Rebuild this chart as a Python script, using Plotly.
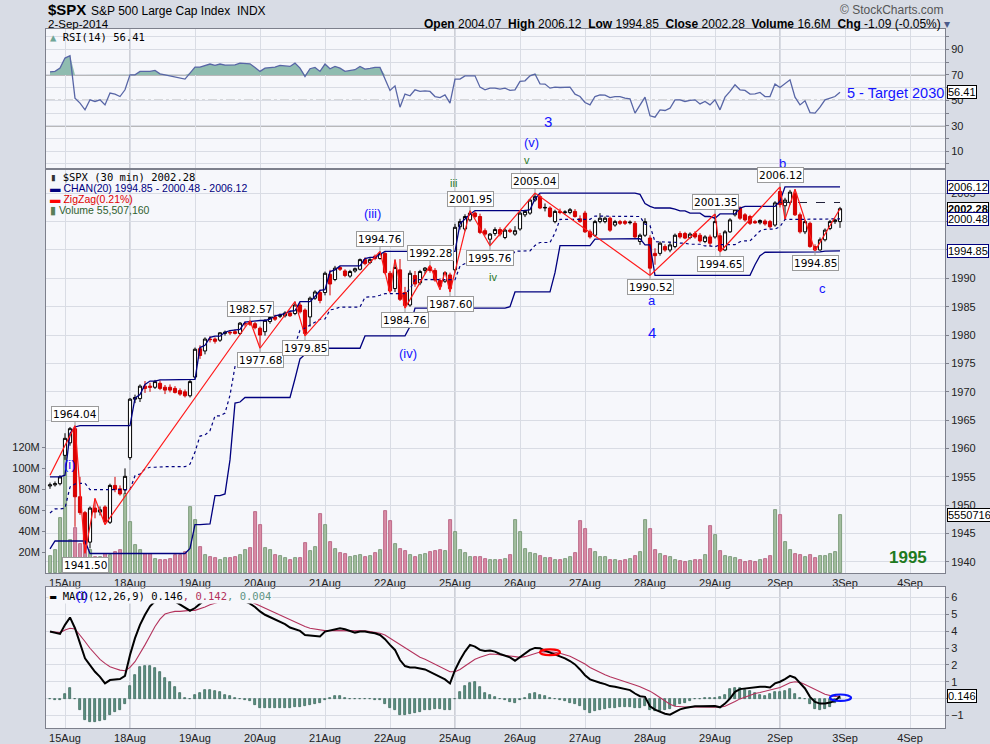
import plotly.graph_objects as go

# =========================
# DATA  ($SPX, 30 min bars, last 3 bars of 14-Aug .. 2-Sep-2014)
# =========================

DAY_LABELS = ["15Aug", "18Aug", "19Aug", "20Aug", "21Aug", "22Aug", "25Aug",
              "26Aug", "27Aug", "28Aug", "29Aug", "2Sep", "3Sep", "4Sep"]
DAY_START = [3, 16, 29, 42, 55, 68, 81, 94, 107, 120, 133, 146, 159, 172]
WEEK_START = [16, 81, 146]

OPEN = [
    1953.4, 1953.6, 1953.8,
    1958.8, 1961.0, 1963.5, 1951.5, 1948.7, 1943.5, 1949.5, 1948.8, 1949.7, 1947.0, 1953.5, 1952.9, 1952.7,
    1958.4, 1968.7, 1968.8, 1971.0, 1971.0, 1970.8, 1971.5, 1970.8, 1970.8, 1970.6, 1970.2, 1970.0, 1969.3,
    1972.6, 1977.6, 1977.2, 1979.3, 1979.3, 1979.1, 1980.3, 1980.5, 1980.6, 1980.3, 1982.0, 1982.3, 1982.0,
    1981.2, 1980.6, 1982.4, 1983.2, 1983.3, 1983.4, 1983.9, 1983.8, 1985.3, 1984.4, 1983.2, 1986.5, 1987.5,
    1987.5, 1990.7, 1989.8, 1991.9, 1991.3, 1990.4, 1991.3, 1991.6, 1993.3, 1992.8, 1993.9, 1993.5, 1994.4,
    1990.9, 1988.2, 1991.5, 1987.5, 1985.3, 1990.5, 1989.2, 1991.4, 1992.0, 1991.4, 1989.6, 1989.5, 1990.6,
    1991.5, 1999.1, 1998.7, 2000.3, 2001.5, 2000.9, 1998.4, 1996.9, 1997.9, 1998.6, 1997.2, 1998.5, 1997.8,
    1998.7, 2001.2, 2001.5, 2003.8, 2004.4, 2002.4, 2002.4, 2000.0, 2001.8, 2001.6, 2001.6, 2001.8, 2000.5,
    2001.5, 1998.2, 1997.6, 2000.0, 2000.0, 2000.6, 1999.4, 2000.0, 2000.0, 1999.8, 1999.7, 1996.5, 1997.6,
    1997.1, 1994.4, 1994.4, 1995.6, 1995.0, 1995.6, 1997.9, 1997.9, 1997.2, 1997.9, 1997.6, 1996.5, 1997.3,
    1997.3, 1997.5, 1995.0, 1998.2, 2001.2, 2002.4, 2001.2, 2000.9, 2000.0, 1999.8, 2000.1, 2000.0, 1999.4,
    2005.3, 2002.8, 2003.4, 2005.0, 2001.2, 1998.2, 1999.7, 1995.6, 1995.0, 1996.8, 1998.8, 2000.0, 2000.0,
]
HIGH = [
    1954.0, 1954.2, 1955.3,
    1962.7, 1963.8, 1964.04, 1955.0, 1949.0, 1949.8, 1951.2, 1949.8, 1950.0, 1953.8, 1955.0, 1953.5, 1956.5,
    1968.9, 1969.5, 1971.3, 1971.9, 1971.6, 1972.1, 1972.0, 1971.2, 1971.3, 1971.0, 1970.6, 1970.4, 1972.2,
    1977.8, 1978.2, 1979.6, 1979.8, 1979.6, 1980.5, 1980.8, 1980.9, 1981.0, 1982.3, 1982.4, 1982.57, 1982.3,
    1981.5, 1982.8, 1983.4, 1983.6, 1983.8, 1984.2, 1984.3, 1985.9, 1985.7, 1984.7, 1986.8, 1987.9, 1988.0,
    1991.2, 1991.5, 1992.2, 1992.2, 1991.6, 1991.5, 1991.9, 1993.5, 1993.7, 1993.6, 1994.2, 1994.76, 1994.6,
    1991.3, 1993.3, 1993.4, 1988.5, 1991.4, 1991.3, 1991.5, 1992.0, 1992.28, 1991.8, 1990.0, 1991.2, 1991.0,
    1999.6, 2000.5, 2001.3, 2001.95, 2001.8, 2001.4, 1998.8, 1998.0, 1999.0, 1999.0, 1998.8, 1998.8, 1999.2,
    2001.8, 2002.1, 2004.0, 2005.04, 2004.8, 2003.2, 2002.7, 2002.1, 2002.3, 2002.0, 2002.4, 2002.2, 2001.1,
    2001.9, 1998.6, 2000.3, 2001.5, 2000.9, 2000.9, 2000.3, 2000.3, 2000.3, 2000.2, 2000.1, 1997.9, 2000.6,
    1997.6, 1995.3, 1996.5, 1996.0, 1996.4, 1997.9, 1998.3, 1998.2, 1998.1, 1998.3, 1998.0, 1997.6, 1997.7,
    2001.35, 1998.0, 1998.5, 2000.6, 2002.4, 2002.7, 2001.5, 2001.2, 2000.3, 2000.4, 2000.4, 2000.3, 2003.6,
    2006.12, 2004.2, 2005.6, 2005.7, 2001.6, 2000.3, 2000.0, 1996.0, 1997.2, 1998.8, 2000.3, 2000.5, 2002.6,
]
LOW = [
    1952.9, 1953.3, 1953.5,
    1958.0, 1960.5, 1946.2, 1948.3, 1941.5, 1942.4, 1947.7, 1948.2, 1946.6, 1946.7, 1952.3, 1951.7, 1952.0,
    1958.0, 1968.0, 1968.2, 1969.8, 1970.0, 1970.5, 1970.3, 1969.6, 1969.9, 1969.7, 1969.3, 1969.0, 1969.0,
    1972.3, 1975.8, 1976.6, 1978.7, 1978.5, 1978.8, 1979.9, 1980.0, 1980.1, 1980.0, 1981.5, 1981.6, 1981.0,
    1977.68, 1979.9, 1982.0, 1982.5, 1983.0, 1983.1, 1983.2, 1983.5, 1983.8, 1979.85, 1981.5, 1986.2, 1985.6,
    1987.0, 1987.0, 1989.5, 1991.3, 1990.2, 1990.1, 1991.0, 1991.4, 1992.3, 1992.5, 1993.2, 1993.3, 1990.7,
    1987.5, 1987.6, 1986.0, 1984.76, 1985.0, 1988.5, 1988.8, 1990.8, 1991.0, 1989.4, 1988.0, 1989.2, 1987.60,
    1991.0, 1998.6, 1998.3, 2000.0, 2000.6, 1997.8, 1997.5, 1995.76, 1997.5, 1997.4, 1996.9, 1998.0, 1997.5,
    1998.4, 2000.8, 2001.2, 2003.5, 2002.2, 2001.8, 2000.7, 1999.7, 2001.3, 2001.2, 2001.3, 2000.7, 1999.8,
    1998.0, 1997.0, 1997.3, 1999.7, 1999.7, 1998.2, 1999.1, 1999.4, 1999.4, 1999.5, 1997.0, 1995.9, 1997.3,
    1990.52, 1992.4, 1994.0, 1994.7, 1994.6, 1995.3, 1997.0, 1996.9, 1996.9, 1997.0, 1996.3, 1996.2, 1995.6,
    1997.0, 1994.65, 1994.8, 1998.0, 2000.9, 2000.3, 2000.0, 1999.4, 1999.6, 1999.5, 1999.3, 1998.8, 1999.1,
    2002.5, 2000.4, 2003.0, 2001.0, 1997.9, 1997.8, 1995.4, 1994.85, 1994.9, 1996.5, 1998.5, 1999.6, 1998.9,
]
CLOSE = [
    1953.6, 1953.8, 1955.0,
    1961.8, 1963.5, 1951.5, 1948.7, 1943.2, 1949.5, 1948.8, 1949.2, 1947.1, 1953.5, 1952.8, 1952.0, 1955.1,
    1968.7, 1969.0, 1971.0, 1970.6, 1970.8, 1971.8, 1970.6, 1970.3, 1970.3, 1969.9, 1969.6, 1969.3, 1971.8,
    1977.5, 1976.4, 1979.3, 1979.2, 1978.9, 1980.4, 1980.5, 1980.4, 1980.3, 1982.1, 1982.0, 1981.9, 1981.3,
    1980.0, 1982.6, 1983.1, 1982.8, 1983.5, 1983.9, 1983.4, 1985.3, 1984.1, 1980.3, 1986.5, 1987.6, 1986.1,
    1990.9, 1989.0, 1991.8, 1991.6, 1990.5, 1991.2, 1991.7, 1993.3, 1992.6, 1993.3, 1993.5, 1994.4, 1991.0,
    1987.8, 1991.9, 1986.3, 1985.2, 1990.9, 1989.0, 1991.2, 1991.8, 1991.4, 1989.7, 1988.6, 1991.0, 1988.2,
    1999.0, 2000.0, 2000.9, 2001.5, 2000.9, 1998.1, 1997.8, 1997.8, 1998.6, 1997.8, 1998.5, 1998.3, 1998.4,
    2001.5, 2001.8, 2003.8, 2004.4, 2002.4, 2002.5, 2000.9, 2001.8, 2001.6, 2001.7, 2002.1, 2000.9, 2000.0,
    1998.2, 1997.3, 2000.0, 2000.6, 2000.6, 1998.5, 2000.0, 1999.7, 1999.7, 1999.9, 1997.3, 1997.6, 2000.0,
    1991.8, 1994.0, 1996.2, 1995.0, 1995.9, 1997.6, 1997.3, 1997.1, 1997.8, 1997.3, 1996.6, 1997.3, 1996.2,
    2000.0, 1994.9, 1998.2, 2000.3, 2002.1, 2000.6, 2000.3, 1999.7, 1999.8, 2000.2, 1999.6, 1999.1, 2003.3,
    2003.0, 2003.8, 2005.2, 2001.2, 1998.2, 2000.0, 1995.6, 1995.0, 1996.8, 1998.5, 2000.0, 2000.3, 2002.28,
]
PREV_CLOSE = 2003.37

# volume, millions of shares
VOLUME_M = [
    15.9, 21.6, 52.7,
    112.0, 31.1, 43.2, 27.3, 41.3, 21.6, 15.2, 15.2, 18.4, 16.8, 20.0, 21.6, 75.6,
    48.6, 26.3, 22.2, 17.8, 17.8, 13.7, 12.7, 12.7, 13.7, 16.8, 16.8, 20.0, 62.9,
    50.2, 24.8, 16.8, 15.2, 14.3, 12.7, 14.3, 14.3, 15.2, 17.5, 21.6, 24.0, 58.1,
    45.4, 24.1, 21.6, 16.8, 15.9, 14.3, 12.1, 14.3, 14.3, 28.6, 21.0, 24.8, 55.9,
    45.4, 29.2, 22.5, 19.0, 17.8, 15.2, 15.9, 16.8, 15.2, 15.9, 19.0, 21.6, 59.0,
    49.5, 27.9, 23.2, 21.0, 16.8, 15.2, 16.8, 18.4, 20.0, 20.6, 21.6, 21.0, 50.8,
    39.0, 22.2, 19.4, 15.2, 15.2, 15.2, 13.7, 12.7, 12.1, 12.7, 13.7, 16.8, 50.8,
    38.7, 23.2, 19.4, 17.8, 15.9, 14.3, 14.3, 12.1, 12.7, 13.7, 15.2, 19.0, 49.2,
    41.6, 22.5, 19.7, 15.2, 15.2, 12.7, 12.1, 11.1, 12.1, 13.7, 15.9, 20.0, 50.2,
    42.2, 21.6, 17.8, 16.2, 15.2, 12.7, 11.4, 10.5, 11.1, 12.1, 12.7, 16.8, 44.4,
    35.9, 20.6, 15.9, 15.2, 14.3, 12.1, 10.5, 11.1, 10.5, 12.1, 13.0, 15.9, 59.7,
    54.9, 29.5, 21.6, 17.8, 17.5, 15.2, 16.8, 14.6, 15.9, 15.9, 17.8, 19.7, 55.51,
]

# price channel CHAN(20)
CHAN_UPPER = [
    1955.0, 1955.0, 1955.0,
    1955.3, 1962.7, 1963.8, 1964.04, 1964.04, 1964.04, 1964.04, 1964.04, 1964.04, 1964.04, 1964.04, 1964.04, 1964.04,
    1964.04, 1968.9, 1969.5, 1971.3, 1971.9, 1971.9, 1972.1, 1972.1, 1972.1, 1972.1, 1972.1, 1972.1, 1972.1,
    1972.2, 1977.8, 1978.2, 1979.6, 1979.8, 1979.8, 1980.5, 1980.8, 1980.9, 1981.0, 1982.3, 1982.4, 1982.57,
    1982.57, 1982.57, 1982.8, 1983.4, 1983.6, 1983.8, 1984.2, 1984.3, 1985.9, 1985.9, 1985.9, 1986.8, 1987.9,
    1988.0, 1991.2, 1991.5, 1992.2, 1992.2, 1992.2, 1992.2, 1992.2, 1993.5, 1993.7, 1993.7, 1994.2, 1994.76,
    1994.76, 1994.76, 1994.76, 1994.76, 1994.76, 1994.76, 1994.76, 1994.76, 1994.76, 1994.76, 1994.76, 1994.76, 1994.76,
    1994.76, 1999.6, 2000.5, 2001.3, 2001.95, 2001.95, 2001.95, 2001.95, 2001.95, 2001.95, 2001.95, 2001.95, 2001.95,
    2001.95, 2001.95, 2002.1, 2004.0, 2005.04, 2005.04, 2005.04, 2005.04, 2005.04, 2005.04, 2005.04, 2005.04, 2005.04,
    2005.04, 2005.04, 2005.04, 2005.04, 2005.04, 2005.04, 2005.04, 2005.04, 2005.04, 2005.04, 2005.04, 2004.8, 2003.2,
    2002.7, 2002.4, 2002.4, 2002.4, 2002.4, 2002.2, 2001.9, 2001.9, 2001.5, 2001.5, 2001.5, 2000.9, 2000.9,
    2000.6, 2001.35, 2001.35, 2001.35, 2001.35, 2002.4, 2002.7, 2002.7, 2002.7, 2002.7, 2002.7, 2002.7, 2002.7,
    2003.6, 2006.12, 2006.12, 2006.12, 2006.12, 2006.12, 2006.12, 2006.12, 2006.12, 2006.12, 2006.12, 2006.12, 2006.12,
]
CHAN_LOWER = [
    1942.3, 1943.7, 1943.7,
    1943.7, 1943.7, 1943.7, 1943.7, 1943.7, 1941.5, 1941.5, 1941.5, 1941.5, 1941.5, 1941.5, 1941.5, 1941.5,
    1941.5, 1941.5, 1941.5, 1941.5, 1941.5, 1941.5, 1941.5, 1941.5, 1941.5, 1941.5, 1941.5, 1941.5, 1942.4,
    1946.6, 1946.6, 1946.6, 1946.7, 1951.7, 1951.7, 1952.0, 1958.0, 1968.0, 1968.2, 1969.0, 1969.0, 1969.0,
    1969.0, 1969.0, 1969.0, 1969.0, 1969.0, 1969.0, 1969.0, 1972.3, 1975.8, 1976.6, 1977.68, 1977.68, 1977.68,
    1977.68, 1977.68, 1977.68, 1977.68, 1977.68, 1977.68, 1977.68, 1977.68, 1979.85, 1979.85, 1979.85, 1979.85, 1979.85,
    1979.85, 1979.85, 1979.85, 1979.85, 1981.5, 1984.76, 1984.76, 1984.76, 1984.76, 1984.76, 1984.76, 1984.76, 1984.76,
    1984.76, 1984.76, 1984.76, 1984.76, 1984.76, 1984.76, 1984.76, 1984.76, 1984.76, 1984.76, 1984.76, 1985.0, 1987.6,
    1987.6, 1987.6, 1987.6, 1987.6, 1987.6, 1987.6, 1987.6, 1991.0, 1995.76, 1995.76, 1995.76, 1995.76, 1995.76,
    1995.76, 1995.76, 1996.9, 1996.9, 1996.9, 1997.0, 1997.0, 1997.0, 1997.0, 1997.0, 1997.0, 1997.0, 1995.9,
    1995.9, 1990.52, 1990.52, 1990.52, 1990.52, 1990.52, 1990.52, 1990.52, 1990.52, 1990.52, 1990.52, 1990.52, 1990.52,
    1990.52, 1990.52, 1990.52, 1990.52, 1990.52, 1990.52, 1990.52, 1990.52, 1992.4, 1994.0, 1994.6, 1994.6, 1994.65,
    1994.65, 1994.65, 1994.65, 1994.65, 1994.65, 1994.65, 1994.65, 1994.65, 1994.65, 1994.8, 1994.85, 1994.85, 1994.85,
]

# ZigZag(0.21%) pivots
ZZ_IDX = [0, 5, 7, 9, 11, 40, 42, 49, 51, 66, 68, 69, 71, 76, 78, 79, 80, 84, 88, 97,
          120, 133, 134, 146, 147, 149, 153, 158]
ZZ_VAL = [1955.3, 1964.04, 1941.50, 1951.2, 1946.6, 1982.57, 1977.68, 1985.9, 1979.85, 1994.76,
          1987.5, 1993.3, 1984.76, 1992.28, 1988.0, 1991.2, 1987.60, 2001.95, 1995.76, 2005.04,
          1990.52, 2001.35, 1994.65, 2006.12, 2000.4, 2005.7, 1994.85, 2002.28]
ZZ_TAG = ["", "hi", "lo", "", "", "hi", "lo", "", "lo", "hi",
          "", "", "lo", "hi", "", "", "lo", "hi", "lo", "hi",
          "lo", "hi", "lo", "hi", "", "", "lo", ""]

RSI = [
    72.5, 72.8, 75.4, 83.3, 85.1, 51.7, 47.8, 42.5, 50.4, 49.1,
    50.4, 46.4, 55.7, 54.9, 53.0, 58.3, 70.1, 70.1, 72.8, 72.8,
    72.8, 73.6, 70.9, 70.1, 69.3, 68.8, 68.0, 66.7, 71.4, 76.2,
    76.2, 77.2, 78.6, 77.5, 78.6, 77.8, 77.8, 78.0, 79.3, 79.3,
    78.8, 75.9, 72.8, 75.4, 75.9, 76.2, 77.5, 77.2, 76.7, 79.3,
    75.4, 68.8, 74.9, 75.9, 72.8, 78.6, 74.9, 76.7, 75.4, 72.8,
    73.3, 74.1, 76.7, 74.6, 75.1, 75.9, 75.9, 66.2, 57.8, 61.4,
    44.6, 54.9, 53.6, 58.3, 57.0, 57.5, 57.0, 53.0, 52.2, 54.3,
    47.8, 66.7, 66.7, 69.3, 69.3, 69.3, 60.4, 58.3, 59.6, 59.6,
    58.8, 59.6, 57.8, 58.3, 64.9, 65.4, 69.3, 70.7, 63.0, 62.8,
    59.6, 60.4, 60.1, 60.4, 60.4, 54.9, 53.0, 48.3, 46.4, 53.0,
    54.3, 54.1, 52.2, 53.0, 53.0, 51.7, 51.2, 39.9, 46.4, 52.5,
    37.8, 36.7, 42.5, 42.0, 43.8, 50.4, 50.4, 49.1, 49.9, 50.4,
    47.2, 49.1, 46.4, 50.4, 42.5, 52.5, 57.0, 62.2, 58.3, 57.8,
    54.9, 55.1, 56.2, 53.0, 53.0, 62.8, 60.1, 62.8, 66.2, 52.5,
    46.4, 49.6, 40.4, 39.9, 44.6, 50.4, 51.7, 53.0, 56.41,
]

MACD = [
    3.98, 3.92, 3.84, 4.38, 4.82, 4.18, 3.29, 2.39, 1.99, 1.59,
    1.29, 0.90, 1.10, 1.14, 1.16, 1.35, 2.59, 3.59, 4.38, 4.98,
    5.48, 5.78, 5.88, 5.88, 5.88, 5.78, 5.58, 5.38, 5.22, 5.38,
    5.64, 5.88, 6.08, 6.18, 6.24, 6.24, 6.18, 6.04, 5.92, 5.78,
    5.64, 5.44, 5.18, 4.98, 4.84, 4.72, 4.58, 4.42, 4.22, 4.14,
    4.02, 3.78, 3.75, 3.75, 3.69, 3.98, 4.04, 4.12, 4.18, 4.12,
    4.02, 3.92, 3.98, 3.98, 3.92, 3.88, 3.78, 3.53, 3.19, 2.89,
    2.29, 1.93, 1.85, 1.85, 1.79, 1.73, 1.59, 1.43, 1.25, 1.14,
    0.90, 1.69, 2.29, 2.79, 3.19, 3.09, 2.89, 2.83, 2.85, 2.79,
    2.65, 2.53, 2.45, 2.25, 2.45, 2.65, 2.89, 3.01, 2.99, 2.85,
    2.73, 2.65, 2.53, 2.39, 2.23, 2.03, 1.73, 1.39, 1.14, 1.02,
    0.94, 0.86, 0.74, 0.70, 0.64, 0.60, 0.50, 0.30, 0.14, 0.10,
    -0.46, -0.66, -0.80, -0.90, -0.96, -0.80, -0.64, -0.56, -0.50, -0.46,
    -0.46, -0.44, -0.46, -0.44, -0.52, -0.30, 0.00, 0.40, 0.56, 0.60,
    0.64, 0.66, 0.70, 0.70, 0.66, 0.90, 1.00, 1.16, 1.35, 1.24,
    0.94, 0.60, 0.10, -0.20, -0.30, -0.30, -0.24, -0.14, 0.146,
]
MACD_SIGNAL = [
    3.98, 3.96, 3.92, 4.08, 4.18, 4.14, 3.78, 3.39, 2.99, 2.65,
    2.33, 2.09, 1.89, 1.79, 1.69, 1.65, 1.85, 2.19, 2.65, 3.19,
    3.73, 4.28, 4.72, 5.02, 5.12, 5.18, 5.18, 5.22, 5.24, 5.24,
    5.32, 5.44, 5.58, 5.68, 5.78, 5.84, 5.88, 5.88, 5.88, 5.84,
    5.78, 5.64, 5.52, 5.38, 5.24, 5.08, 4.94, 4.82, 4.68, 4.54,
    4.42, 4.28, 4.18, 4.12, 4.08, 4.04, 4.04, 4.04, 4.04, 4.04,
    4.04, 4.04, 4.02, 4.02, 3.98, 3.94, 3.88, 3.78, 3.59, 3.39,
    3.19, 2.99, 2.79, 2.59, 2.45, 2.33, 2.19, 2.05, 1.89, 1.73,
    1.59, 1.59, 1.73, 1.93, 2.13, 2.33, 2.45, 2.57, 2.65, 2.63,
    2.61, 2.57, 2.53, 2.49, 2.45, 2.49, 2.57, 2.69, 2.77, 2.79,
    2.79, 2.75, 2.69, 2.61, 2.51, 2.37, 2.23, 2.05, 1.85, 1.69,
    1.55, 1.41, 1.29, 1.20, 1.10, 1.00, 0.90, 0.80, 0.70, 0.58,
    0.44, 0.26, 0.06, -0.14, -0.34, -0.46, -0.50, -0.50, -0.50, -0.50,
    -0.50, -0.50, -0.50, -0.50, -0.52, -0.46, -0.34, -0.18, -0.02, 0.10,
    0.20, 0.30, 0.36, 0.42, 0.50, 0.58, 0.66, 0.80, 0.94, 1.00,
    0.96, 0.84, 0.70, 0.54, 0.38, 0.26, 0.18, 0.12, 0.142,
]
MACD_HIST = [
    -0.05, -0.08, -0.10, 0.30, 0.60, -0.05, -0.66, -1.30, -1.40, -1.40,
    -1.35, -1.25, -1.00, -0.80, -0.66, -0.30, 0.75, 1.40, 1.85, 1.93,
    1.93, 1.79, 1.55, 1.25, 0.96, 0.66, 0.36, 0.06, -0.02, 0.24,
    0.36, 0.50, 0.50, 0.46, 0.38, 0.24, 0.14, 0.04, 0.00, -0.06,
    -0.14, -0.40, -0.56, -0.56, -0.56, -0.56, -0.56, -0.56, -0.56, -0.50,
    -0.50, -0.46, -0.40, -0.34, -0.26, -0.06, 0.06, 0.14, 0.14, 0.04,
    0.00, 0.00, -0.04, -0.02, -0.04, -0.06, -0.10, -0.30, -0.56, -0.70,
    -1.00, -1.00, -0.94, -0.86, -0.80, -0.70, -0.66, -0.64, -0.64, -0.66,
    -0.66, 0.00, 0.40, 0.74, 0.90, 1.00, 0.66, 0.34, 0.20, 0.10,
    -0.04, -0.10, -0.20, -0.26, -0.06, 0.06, 0.26, 0.34, 0.24, 0.16,
    0.06, 0.00, -0.10, -0.16, -0.24, -0.34, -0.46, -0.70, -0.84, -0.76,
    -0.70, -0.60, -0.56, -0.54, -0.50, -0.50, -0.50, -0.54, -0.54, -0.46,
    -0.66, -0.76, -0.74, -0.70, -0.60, -0.46, -0.34, -0.26, -0.14, -0.04,
    0.00, 0.04, 0.04, 0.04, 0.10, 0.24, 0.54, 0.60, 0.60, 0.50,
    0.44, 0.36, 0.20, 0.16, 0.30, 0.40, 0.40, 0.44, 0.54, 0.30,
    0.06, -0.04, -0.30, -0.60, -0.70, -0.60, -0.50, -0.26, 0.004,
]

# =========================
# THEME
# =========================

W, H = 990, 744
PAPER = "#d8dce5"
PLOT_BG = "#f6f7fb"
GRID = "#d9dce4"
WEEK_LINE = "#a6a9b3"
BORDER = "#7d808c"
NAVY = "#00007f"
BLUE_TXT = "#1414ff"
GREEN_TXT = "#2a7a2a"
MONO = "DejaVu Sans Mono"
SANS = "Liberation Sans, Arial, sans-serif"

X_RANGE = [-0.8, 179]


def fx(px):
    return px / W


def fy(py):
    return 1 - py / H


bars = list(range(len(CLOSE)))
up = [c >= o for o, c in zip(OPEN, CLOSE)]
vol_fill = ["#a3be9f" if u else "#d98ba5" for u in up]
vol_edge = ["#6e8f6b" if u else "#b2587a" for u in up]
chan_mid = [(u + l) / 2 for u, l in zip(CHAN_UPPER, CHAN_LOWER)]
rsi_over = [max(v, 70) for v in RSI]

fig = go.Figure()

# =========================
# 1. RSI PANEL
# =========================

fig.add_trace(go.Scatter(x=bars, y=[70] * len(RSI), mode="lines", line=dict(width=0),
                         xaxis="x", yaxis="y", hoverinfo="skip", showlegend=False))
fig.add_trace(go.Scatter(x=bars, y=rsi_over, mode="lines", line=dict(width=0),
                         fill="tonexty", fillcolor="#8fbcb0",
                         xaxis="x", yaxis="y", hoverinfo="skip", showlegend=False))
fig.add_trace(go.Scatter(x=bars, y=RSI, mode="lines", line=dict(color="#5866a6", width=1.3),
                         xaxis="x", yaxis="y", hoverinfo="skip", showlegend=False))

# =========================
# 2. PRICE PANEL
# =========================

fig.add_trace(go.Bar(x=bars, y=VOLUME_M, width=0.6,
                     marker=dict(color=vol_fill, line=dict(color=vol_edge, width=0.8)),
                     xaxis="x2", yaxis="y2", hoverinfo="skip", showlegend=False))

fig.add_trace(go.Scatter(x=bars, y=CHAN_UPPER, mode="lines", line=dict(color=NAVY, width=1.3),
                         xaxis="x2", yaxis="y3", hoverinfo="skip", showlegend=False))
fig.add_trace(go.Scatter(x=bars, y=CHAN_LOWER, mode="lines", line=dict(color=NAVY, width=1.3),
                         xaxis="x2", yaxis="y3", hoverinfo="skip", showlegend=False))
fig.add_trace(go.Scatter(x=bars, y=chan_mid, mode="lines", line=dict(color=NAVY, width=1.2, dash="dot"),
                         xaxis="x2", yaxis="y3", hoverinfo="skip", showlegend=False))

prev_x = [DAY_START[DAY_LABELS.index("2Sep")], bars[-1]]
fig.add_trace(go.Scatter(x=prev_x, y=[PREV_CLOSE, PREV_CLOSE], mode="lines",
                         line=dict(color="#20203a", width=1, dash="dash"),
                         xaxis="x2", yaxis="y3", hoverinfo="skip", showlegend=False))

fig.add_trace(go.Candlestick(
    x=bars, open=OPEN, high=HIGH, low=LOW, close=CLOSE,
    increasing=dict(fillcolor="#ffffff", line=dict(color="#000000", width=1)),
    decreasing=dict(fillcolor="#e00000", line=dict(color="#d00000", width=1)),
    whiskerwidth=0, xaxis="x2", yaxis="y3", hoverinfo="skip", showlegend=False))

fig.add_trace(go.Scatter(x=ZZ_IDX, y=ZZ_VAL, mode="lines", line=dict(color="#ff1a1a", width=1.2),
                         xaxis="x2", yaxis="y3", hoverinfo="skip", showlegend=False))

# =========================
# 3. MACD PANEL
# =========================

fig.add_trace(go.Bar(x=bars, y=MACD_HIST, width=0.55,
                     marker=dict(color="#5e9383", line=dict(color="#2f5d50", width=0.7)),
                     xaxis="x3", yaxis="y4", hoverinfo="skip", showlegend=False))
fig.add_trace(go.Scatter(x=bars, y=MACD_SIGNAL, mode="lines", line=dict(color="#b3325c", width=1.1),
                         xaxis="x3", yaxis="y4", hoverinfo="skip", showlegend=False))
fig.add_trace(go.Scatter(x=bars, y=MACD, mode="lines", line=dict(color="#000000", width=2),
                         xaxis="x3", yaxis="y4", hoverinfo="skip", showlegend=False))

# =========================
# AXES
# =========================

x_common = dict(
    range=X_RANGE, domain=[fx(46), fx(945)],
    tickmode="array", tickvals=DAY_START, ticktext=DAY_LABELS,
    showgrid=True, gridcolor=GRID, gridwidth=1, zeroline=False,
    showline=True, linecolor=BORDER, mirror=True, ticks="",
    tickfont=dict(family=SANS, size=11, color="#222222"),
)
y_common = dict(showline=True, linecolor=BORDER, mirror=True, zeroline=False,
                gridcolor=GRID, ticks="outside", ticklen=3, tickcolor=BORDER,
                tickfont=dict(family=SANS, size=11, color="#222222"))

fig.update_layout(
    width=W, height=H, margin=dict(l=0, r=0, t=0, b=0),
    paper_bgcolor=PAPER, plot_bgcolor=PLOT_BG,
    showlegend=False, bargap=0, boxgap=0.1,
    xaxis=dict(x_common, anchor="y", showticklabels=False),
    xaxis2=dict(x_common, anchor="y2", matches="x", rangeslider=dict(visible=False)),
    xaxis3=dict(x_common, anchor="y4", matches="x"),
    yaxis=dict(y_common, domain=[fy(168), fy(29)], range=[-3.3, 106.2], side="right",
               tickvals=list(range(0, 101, 10)),
               ticktext=["", "10", "", "30", "", "50", "", "70", "", "90", ""]),
    yaxis2=dict(y_common, domain=[fy(573), fy(170)], range=[0, 383.8], side="left",
                showgrid=False, anchor="x2",
                tickvals=[20, 40, 60, 80, 100, 120],
                ticktext=["20M", "40M", "60M", "80M", "100M", "120M"]),
    yaxis3=dict(y_common, overlaying="y2", anchor="x2", side="right", range=[1938.06, 2009.1],
                tickvals=list(range(1940, 2010, 5))),
    yaxis4=dict(y_common, domain=[fy(728), fy(587)], range=[-1.75, 6.63], side="right",
                anchor="x3", tickvals=list(range(-1, 7))),
)

# =========================
# SHAPES
# =========================

shapes = []
for yref, lvl, dash in [("y", 70, "solid"), ("y", 30, "solid"), ("y", 50, "dashdot")]:
    shapes.append(dict(type="line", xref="x domain", yref=yref, x0=0, x1=1, y0=lvl, y1=lvl,
                       line=dict(color="#7a7a7a", width=1.3, dash=dash), layer="below"))
for w in WEEK_START:
    for yref in ["y domain", "y2 domain", "y4 domain"]:
        shapes.append(dict(type="line", xref="x", yref=yref, x0=w, x1=w, y0=0, y1=1,
                           line=dict(color=WEEK_LINE, width=1), layer="below"))
shapes.append(dict(type="circle", xref="x3", yref="y4", x0=98, x1=102, y0=2.58, y1=2.92,
                   line=dict(color="#ff0000", width=2.2)))
shapes.append(dict(type="circle", xref="x3", yref="y4", x0=156, x1=160.2, y0=-0.14, y1=0.24,
                   line=dict(color="#0a14ff", width=2.2)))
fig.update_layout(shapes=shapes)

# =========================
# TEXT
# =========================

ann = []


def txt(x, y, text, size=11, color="#000000", family=SANS, xanchor="left", yanchor="middle",
        xref="paper", yref="paper", **kw):
    ann.append(dict(x=x, y=y, xref=xref, yref=yref, text=text, showarrow=False,
                    xanchor=xanchor, yanchor=yanchor,
                    font=dict(size=size, color=color, family=family), **kw))


# header
txt(fx(46), fy(10), "<b>$SPX</b>", size=15)
txt(fx(89), fy(11), "S&P 500 Large Cap Index  INDX", size=12)
txt(fx(46), fy(24), "2-Sep-2014", size=11.5)
txt(fx(952), fy(24),
    "<b>Open</b> 2004.07  <b>High</b> 2006.12  <b>Low</b> 1994.85  <b>Close</b> 2002.28  "
    "<b>Volume</b> 16.6M  <b>Chg</b> -1.09 (-0.05%) <span style='color:#4a5a8a'>▾</span>",
    size=12, xanchor="right")
txt(fx(946), fy(10), "© StockCharts.com", size=12, color="#555555", xanchor="right")

# panel legends
txt(fx(48), fy(37), "<span style='color:#6fa596'>▲</span> RSI(14) 56.41", size=10.5, family=MONO)
txt(fx(48), fy(177), "<span style='color:#333'>▮</span> $SPX (30 min) 2002.28", size=10.5, family=MONO)
txt(fx(48), fy(188), "<span style='color:#00007f'>▬</span> CHAN(20) 1994.85 - 2000.48 - 2006.12",
    size=10.5, color=NAVY)
txt(fx(48), fy(199), "<span style='color:#ff0000'>▬</span> ZigZag(0.21%)", size=10.5, color="#e00000")
txt(fx(48), fy(210), "<span style='color:#5a7f58'>▮</span> Volume 55,507,160", size=10.5, color="#2f5f2f")
txt(fx(48), fy(596),
    "▬ MACD(12,26,9) 0.146<span style='color:#b3325c'>, 0.142</span>"
    "<span style='color:#5e9383'>, 0.004</span>",
    size=10.5, family=MONO, bgcolor=PLOT_BG)

# elliott wave labels
txt(96.2, 16.5, "(v)", size=13, color=BLUE_TXT, xanchor="center", xref="x", yref="y")
txt(95.4, 3.0, "v", size=11, color=GREEN_TXT, xanchor="center", xref="x", yref="y")
txt(99.6, 33.0, "3", size=15, color=BLUE_TXT, xanchor="center", xref="x", yref="y")
txt(146.4, 0.5, "b", size=13, color=BLUE_TXT, xanchor="center", xref="x", yref="y")
txt(fx(946), 55.9, "5 - Target 2030", size=14.5, color=BLUE_TXT, xanchor="right", yref="y")

for x, y, t, s, c in [
    (4.0, 1957.1, "(i)", 13, BLUE_TXT), (64.4, 2001.5, "(iii)", 13, BLUE_TXT),
    (71.6, 1976.8, "(iv)", 13, BLUE_TXT), (80.6, 2006.8, "iii", 11, GREEN_TXT),
    (88.6, 1990.2, "iv", 11, GREEN_TXT), (79.4, 1985.1, "ii", 11, GREEN_TXT),
    (72.0, 1994.6, "i", 11, GREEN_TXT), (120.4, 1986.1, "a", 13, BLUE_TXT),
    (120.4, 1980.5, "4", 15, BLUE_TXT), (154.4, 1988.2, "c", 13, BLUE_TXT),
]:
    txt(x, y, t, size=s, color=c, xanchor="center", xref="x2", yref="y3")
txt(171.6, 1940.8, "<b>1995</b>", size=17, color="#1f7a1f", xanchor="center", xref="x2", yref="y3")
txt(6.4, 6.13, "(i)", size=13, color=BLUE_TXT, xanchor="center", xref="x3", yref="y4")

# zigzag value boxes
for i, v, tag in zip(ZZ_IDX, ZZ_VAL, ZZ_TAG):
    if not tag:
        continue
    ann.append(dict(x=i, y=v, xref="x2", yref="y3", text=f"{v:.2f}", showarrow=True,
                    arrowhead=0, arrowwidth=1, arrowcolor="#9a9a9a", ax=0,
                    ay=-12 if tag == "hi" else 12,
                    bgcolor="#ffffff", bordercolor="#9a9a9a", borderwidth=1, borderpad=1,
                    font=dict(size=10.5, color="#000000", family="DejaVu Sans")))

# right edge value boxes
for yref, v, text, border in [
    ("y", 56.41, "56.41", "#000000"),
    ("y3", 2006.12, "2006.12", NAVY),
    ("y3", 2002.28, "<b>2002.28</b>", "#000000"),
    ("y3", 2000.48, "2000.48", NAVY),
    ("y3", 1994.85, "1994.85", NAVY),
    ("y2", 55.51, "55507160", "#000000"),
    ("y4", 0.146, "0.146", "#000000"),
]:
    ann.append(dict(x=fx(947), y=v, xref="paper", yref=yref, text=text, showarrow=False,
                    xanchor="left", yanchor="middle", bgcolor="#ffffff", bordercolor=border,
                    borderwidth=1, borderpad=0,
                    font=dict(size=11, color="#000000", family=SANS)))

fig.update_layout(annotations=ann)

fig.write_html("out.html", config={"displayModeBar": False},
               post_script="document.body.style.margin='0';")
